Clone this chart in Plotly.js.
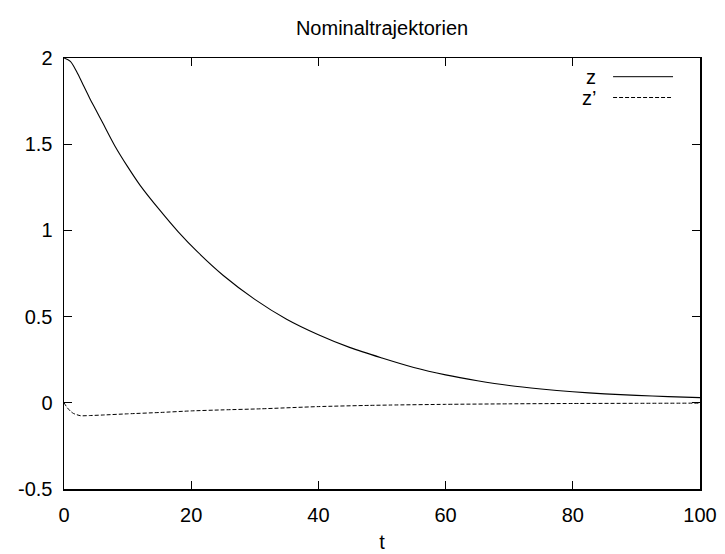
<!DOCTYPE html>
<html>
<head>
<meta charset="utf-8">
<script src="https://cdn.plot.ly/plotly-3.0.1.min.js"></script>
<style>html,body{margin:0;padding:0;background:#fff;}#chart{width:725px;height:554px;}</style>
</head>
<body>
<div id="chart"></div>
<script>
// Data
const tZ = [0, 1, 2, 3, 4, 5, 6, 8, 10, 12, 15, 18, 21, 25, 30, 35, 40, 45, 50, 55, 60, 65, 70, 75, 80, 85, 90, 95, 100];
const zVals = [2.000, 1.980, 1.920, 1.845, 1.770, 1.700, 1.630, 1.490, 1.370, 1.260, 1.120, 0.990, 0.875, 0.740, 0.600, 0.485, 0.395, 0.320, 0.260, 0.205, 0.162, 0.128, 0.100, 0.080, 0.064, 0.052, 0.043, 0.036, 0.030];
const tZp = [0, 0.5, 1, 1.5, 2.6, 4, 6, 10, 15.2, 20, 25, 30.9, 40, 48, 51.3, 60, 70, 80, 90, 100];
const zpVals = [0, -0.028, -0.048, -0.062, -0.075, -0.074, -0.071, -0.064, -0.056, -0.047, -0.041, -0.035, -0.022, -0.015, -0.013, -0.009, -0.006, -0.004, -0.003, -0.002];
const seriesNames = ["z", "z’"];
const xTicks = [0, 20, 40, 60, 80, 100];
const yTicks = [-0.5, 0, 0.5, 1, 1.5, 2];
const yTickText = ["-0.5", "0", "0.5", "1", "1.5", "2"];

const font = "Liberation Sans, Arial, Helvetica, sans-serif";

const traces = [
  {x: tZ, y: zVals, name: seriesNames[0], mode: "lines", line: {color: "#000", width: 1.1, shape: "spline", smoothing: 0.8}, showlegend: false},
  {x: tZp, y: zpVals, name: seriesNames[1], mode: "lines", line: {color: "#000", width: 1, dash: "4px,2px", shape: "spline", smoothing: 0.6}, showlegend: false}
];

const axisCommon = {
  showline: true, linecolor: "#000", linewidth: 1.5, mirror: "ticks",
  ticks: "inside", ticklen: 8, tickwidth: 1, tickcolor: "#000",
  showgrid: false, zeroline: false,
  tickfont: {family: font, size: 20, color: "#000"}
};

const layout = {
  width: 725, height: 554,
  margin: {l: 63.5, r: 25, t: 58, b: 65},
  paper_bgcolor: "#fff", plot_bgcolor: "#fff",
  title: {text: "Nominaltrajektorien", font: {family: font, size: 20, color: "#000"}, x: 0.527, xanchor: "center", y: 0.95, yanchor: "middle"},
  xaxis: Object.assign({}, axisCommon, {range: [0, 100], tickvals: xTicks, ticklabelstandoff: 7,
    title: {text: "t", font: {family: font, size: 20, color: "#000"}, standoff: 10}}),
  yaxis: Object.assign({}, axisCommon, {range: [-0.5, 2], tickvals: yTicks, ticktext: yTickText, ticklabelstandoff: 6}),
  shapes: [
    {type: "line", xref: "paper", yref: "paper", x0: (613-63.5)/636.5, x1: (673-63.5)/636.5, y0: (489-76.7)/431, y1: (489-76.7)/431, line: {color: "#000", width: 1}},
    {type: "line", xref: "paper", yref: "paper", x0: (613-63.5)/636.5, x1: (671-63.5)/636.5, y0: (489-97.5)/431, y1: (489-97.5)/431, line: {color: "#000", width: 1, dash: "4px,2px"}}
  ],
  annotations: [
    {text: seriesNames[0], xref: "paper", yref: "paper", x: (598-63.5)/636.5, y: (489-76.7)/431, xanchor: "right", yanchor: "middle", showarrow: false, font: {family: font, size: 20, color: "#000"}},
    {text: seriesNames[1], xref: "paper", yref: "paper", x: (598-63.5)/636.5, y: (489-97.5)/431, xanchor: "right", yanchor: "middle", showarrow: false, font: {family: font, size: 20, color: "#000"}}
  ]
};

Plotly.newPlot("chart", traces, layout, {displayModeBar: false, staticPlot: true});
</script>
</body>
</html>
